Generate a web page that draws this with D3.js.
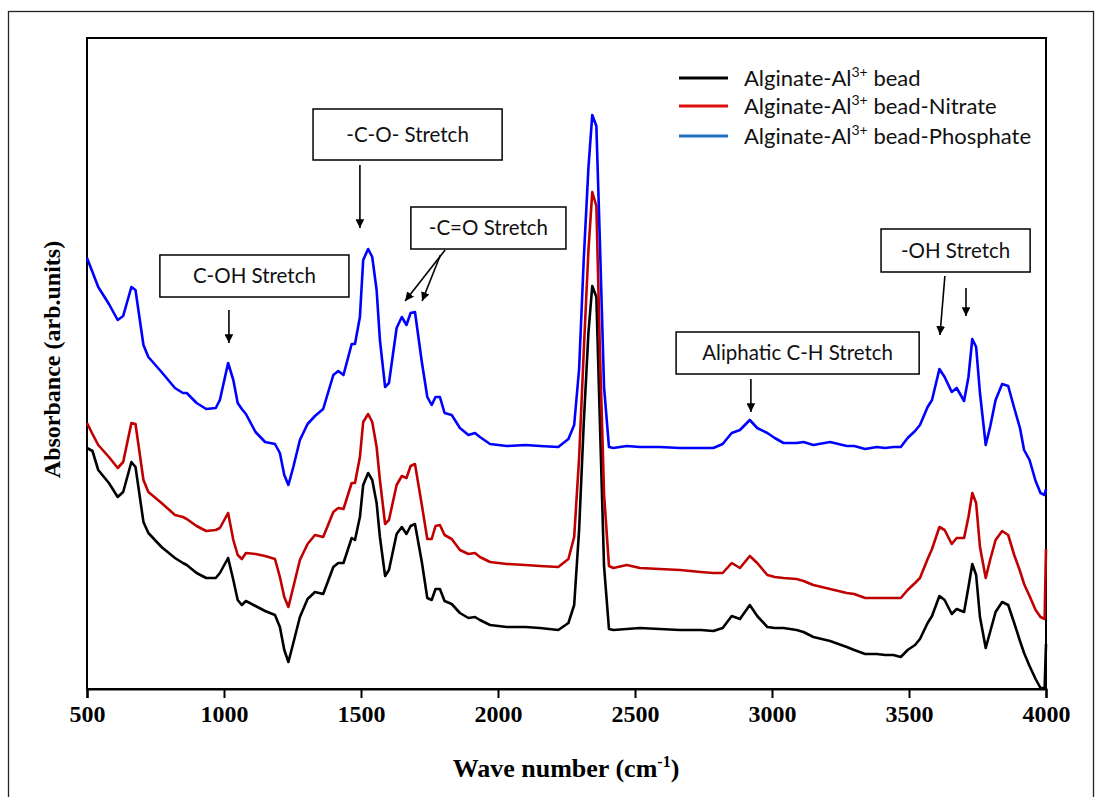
<!DOCTYPE html>
<html>
<head>
<meta charset="utf-8">
<script src="https://cdn.jsdelivr.net/npm/d3@7"></script>
<style>
  html, body { margin: 0; padding: 0; background: #fff; }
  svg { display: block; }
</style>
</head>
<body>
<svg id="chart" width="1097" height="797"></svg>
<script>
// FTIR spectra of alginate-Al3+ beads (absorbance, arbitrary units, offset traces)
const waveNumbers = [500, 520, 541, 580, 612, 632, 662, 677, 706, 724, 772, 821, 850, 864, 900, 935, 970, 985, 1015, 1034,
  1050, 1065, 1080, 1115, 1150, 1186, 1204, 1220, 1235, 1253, 1277, 1305, 1332, 1362, 1399, 1417, 1436, 1466, 1478, 1496,
  1508, 1526, 1541, 1557, 1569, 1588, 1602, 1630, 1649, 1666, 1681, 1697, 1722, 1742, 1758, 1772, 1788, 1805, 1831, 1861,
  1892, 1916, 1934, 1971, 2032, 2100, 2153, 2220, 2257, 2278, 2296, 2313, 2330, 2344, 2359, 2372, 2387, 2405, 2421, 2470,
  2518, 2590, 2664, 2740, 2786, 2820, 2853, 2883, 2919, 2946, 2983, 3010, 3042, 3090, 3115, 3151, 3212, 3273, 3300, 3340,
  3382, 3413, 3443, 3470, 3495, 3522, 3540, 3568, 3584, 3611, 3630, 3656, 3674, 3701, 3717, 3731, 3745, 3759, 3780, 3796,
  3816, 3840, 3862, 3884, 3905, 3920, 3940, 3962, 3980, 3995, 4000];

const beadAbs = [241, 238, 219, 206, 192, 197, 227, 222, 167, 156, 142, 131, 126, 124, 116, 111, 111, 116, 131, 109,
  89, 84, 88, 83, 78, 74, 62, 39, 27, 46, 72, 90, 97, 95, 122, 126, 126, 151, 149, 172,
  204, 216, 209, 186, 152, 113, 119, 155, 162, 155, 163, 165, 127, 91, 89, 100, 100, 88, 85, 76,
  71, 72, 69, 64, 62, 62, 61, 59, 66, 84, 159, 266, 356, 403, 392, 266, 123, 60, 59, 60,
  61, 60, 59, 59, 58, 61, 73, 70, 84, 73, 62, 61, 61, 59, 57, 52, 48, 42, 39, 35,
  35, 34, 34, 32, 39, 44, 50, 66, 73, 93, 89, 75, 80, 77, 102, 125, 114, 72, 41, 57,
  77, 87, 84, 66, 48, 36, 23, 10, 1, 1, 45];

const nitrateAbs = [266, 255, 244, 232, 221, 227, 266, 265, 209, 197, 186, 174, 172, 170, 163, 158, 159, 161, 176, 149,
  134, 130, 136, 135, 133, 130, 112, 92, 82, 102, 129, 145, 154, 152, 177, 181, 180, 206, 206, 232,
  267, 275, 267, 242, 209, 165, 169, 204, 213, 211, 223, 225, 184, 150, 150, 163, 164, 154, 150, 139,
  135, 136, 132, 127, 125, 124, 123, 122, 130, 152, 231, 338, 438, 497, 483, 338, 195, 123, 121, 124,
  121, 120, 119, 117, 116, 116, 126, 121, 133, 126, 114, 112, 111, 110, 108, 104, 100, 96, 95, 91,
  91, 91, 91, 91, 99, 106, 111, 130, 140, 162, 159, 145, 151, 151, 172, 196, 186, 142, 111, 129,
  149, 158, 154, 134, 118, 105, 93, 79, 72, 70, 140];

const phosphateAbs = [431, 417, 402, 385, 369, 373, 402, 399, 344, 332, 317, 301, 296, 296, 286, 280, 281, 289, 326, 309,
  286, 280, 275, 257, 247, 245, 236, 214, 204, 222, 249, 265, 273, 280, 314, 318, 314, 345, 345, 372,
  429, 440, 432, 399, 349, 302, 306, 361, 372, 364, 376, 377, 327, 292, 284, 292, 292, 276, 274, 261,
  254, 256, 252, 245, 243, 244, 243, 242, 250, 264, 320, 430, 521, 574, 563, 446, 302, 242, 241, 243,
  242, 242, 241, 241, 241, 245, 256, 259, 269, 261, 256, 251, 246, 246, 247, 244, 247, 243, 243, 240,
  242, 241, 242, 242, 251, 258, 264, 282, 289, 320, 312, 297, 301, 288, 312, 350, 342, 296, 244, 262,
  289, 305, 303, 281, 261, 239, 229, 208, 196, 194, 200];

const seriesNames = ["bead", "bead-Nitrate", "bead-Phosphate"];
const lineColors = ["#000000", "#c00000", "#0000ff"];
const legendColors = ["#000000", "#e01010", "#1f6fc4"];
const xTicks = [500, 1000, 1500, 2000, 2500, 3000, 3500, 4000];

const svg = d3.select("#chart");
const plot = { left: 87, right: 1046, top: 38, bottom: 689 };
const serif = "'Liberation Serif', 'Times New Roman', serif";
const sans = "Lato, 'Open Sans', sans-serif";

const x = d3.scaleLinear().domain([500, 4000]).range([plot.left, plot.right]);
const y = d3.scaleLinear().domain([0, 651]).range([plot.bottom, plot.top]);

// outer frame of the figure
svg.append("rect")
  .attr("x", 8.5).attr("y", 11.5)
  .attr("width", 1085).attr("height", 800)
  .attr("fill", "none").attr("stroke", "#222").attr("stroke-width", 1.3);

// plot box
svg.append("rect")
  .attr("x", plot.left).attr("y", plot.top)
  .attr("width", plot.right - plot.left).attr("height", plot.bottom - plot.top)
  .attr("fill", "none").attr("stroke", "#000").attr("stroke-width", 2);

// traces
const seriesValues = [beadAbs, nitrateAbs, phosphateAbs];
const line = d3.line()
  .x(d => x(d[0]))
  .y(d => y(d[1]));

const traces = svg.append("g").attr("class", "traces");
seriesValues.forEach((vals, i) => {
  const pts = waveNumbers.map((w, k) => [w, vals[k]]);
  traces.append("path")
    .datum(pts)
    .attr("d", line)
    .attr("fill", "none")
    .attr("stroke", lineColors[i])
    .attr("stroke-width", 2.6)
    .attr("stroke-linejoin", "round");
});

// x axis
const xAxis = d3.axisBottom(x).tickValues(xTicks).tickSize(9).tickPadding(7).tickFormat(d3.format("d"));
const gx = svg.append("g")
  .attr("transform", `translate(0,${plot.bottom})`)
  .call(xAxis);
gx.select(".domain").attr("stroke", "#000").attr("stroke-width", 2.2);
gx.selectAll(".tick line").attr("stroke", "#000").attr("stroke-width", 2);
gx.selectAll(".tick text")
  .attr("fill", "#000")
  .style("font-family", serif)
  .style("font-weight", "bold")
  .style("font-size", "24px");

// axis titles
const xTitle = svg.append("text")
  .attr("x", 566)
  .attr("y", 777)
  .attr("text-anchor", "middle")
  .style("font-family", serif)
  .style("font-weight", "bold")
  .style("font-size", "26px");
xTitle.append("tspan").text("Wave number (cm");
xTitle.append("tspan").attr("dy", -10).style("font-size", "16px").text("-1");
xTitle.append("tspan").attr("dy", 10).text(")");

svg.append("text")
  .attr("transform", `translate(52,${(plot.top + plot.bottom) / 2 - 4}) rotate(-90)`)
  .attr("text-anchor", "middle")
  .attr("dy", "0.35em")
  .style("font-family", serif)
  .style("font-weight", "bold")
  .style("font-size", "24px")
  .text("Absorbance (arb.units)");

// legend
const legend = svg.append("g");
const legendRows = [78, 106, 136];
seriesNames.forEach((name, i) => {
  legend.append("line")
    .attr("x1", 679).attr("x2", 728)
    .attr("y1", legendRows[i]).attr("y2", legendRows[i])
    .attr("stroke", legendColors[i]).attr("stroke-width", 3);
  const t = legend.append("text")
    .attr("x", 744).attr("y", legendRows[i] + 7.5)
    .style("font-family", sans)
    .style("font-size", "22px")
    .attr("fill", "#111");
  t.append("tspan").text("Alginate-Al");
  t.append("tspan").attr("dy", -9).style("font-size", "14px").text("3+");
  t.append("tspan").attr("dy", 9).text(" " + name);
});

// annotation callouts (positions in wavenumber / absorbance units)
const defs = svg.append("defs");
defs.append("marker")
  .attr("id", "head")
  .attr("viewBox", "0 0 10 10")
  .attr("refX", 10).attr("refY", 5)
  .attr("markerWidth", 5.5).attr("markerHeight", 5.5)
  .attr("markerUnits", "strokeWidth")
  .attr("orient", "auto")
  .append("path").attr("d", "M0,0 L10,5 L0,10 Z").attr("fill", "#000");

const callouts = [
  { text: "-C-O- Stretch", box: [1325, 580, 2015, 529], arrows: [[1496, 524, 1496, 461]] },
  { text: "C-OH Stretch", box: [766, 434, 1456, 392], arrows: [[1018, 379, 1018, 346]] },
  { text: "-C=O Stretch", box: [1682, 482, 2248, 440], arrows: [[1807, 439, 1661, 388], [1790, 434, 1723, 388]] },
  { text: "Aliphatic C-H Stretch", box: [2650, 357, 3537, 315], arrows: [[2923, 310, 2923, 277]] },
  { text: "-OH Stretch", box: [3398, 460, 3942, 417], arrows: [[3631, 413, 3613, 354], [3708, 401, 3708, 373]] }
];

const ann = svg.append("g");
callouts.forEach(c => {
  const x0 = x(c.box[0]), y0 = y(c.box[1]), x1 = x(c.box[2]), y1 = y(c.box[3]);
  ann.append("rect")
    .attr("x", x0).attr("y", y0)
    .attr("width", x1 - x0).attr("height", y1 - y0)
    .attr("fill", "#fff").attr("stroke", "#000").attr("stroke-width", 1.5);
  ann.append("text")
    .attr("x", (x0 + x1) / 2).attr("y", (y0 + y1) / 2)
    .attr("dy", "0.35em")
    .attr("text-anchor", "middle")
    .style("font-family", sans)
    .style("font-size", "20.5px")
    .attr("fill", "#111")
    .text(c.text);
  c.arrows.forEach(a => {
    ann.append("line")
      .attr("x1", x(a[0])).attr("y1", y(a[1]))
      .attr("x2", x(a[2])).attr("y2", y(a[3]))
      .attr("stroke", "#000").attr("stroke-width", 1.6)
      .attr("marker-end", "url(#head)");
  });
});
</script>
</body>
</html>
